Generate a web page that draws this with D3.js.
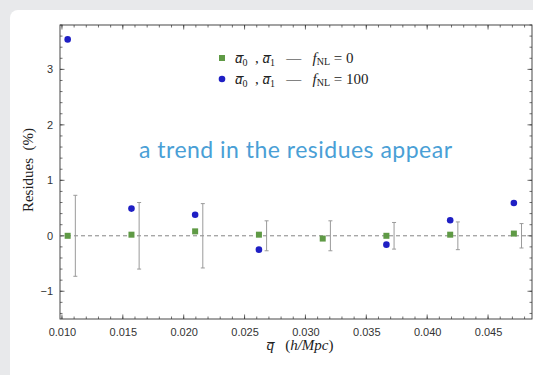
<!DOCTYPE html>
<html>
<head>
<meta charset="utf-8">
<script src="https://cdn.jsdelivr.net/npm/d3@7"></script>
<style>
  body { margin: 0; background: #e8e9eb; }
  svg { display: block; }
  text { white-space: pre; }
</style>
</head>
<body>
<script>
// residues of the fit
let q = [0.01047, 0.01571, 0.02094, 0.02618, 0.03142, 0.03665, 0.04189, 0.04712]
let resFnl0 = [0.0, 0.02, 0.08, 0.02, -0.05, 0.0, 0.02, 0.04]
let resFnl100 = [3.54, 0.49, 0.38, -0.25, null, -0.16, 0.28, 0.59]
let errQ = [0.01110, 0.01634, 0.02157, 0.02681, 0.03205, 0.03728, 0.04252, 0.04775]
let errSize = [0.73, 0.60, 0.58, 0.27, 0.27, 0.24, 0.25, 0.22]
let xTicks = [0.010, 0.015, 0.020, 0.025, 0.030, 0.035, 0.040, 0.045]
let yTicks = [-1, 0, 1, 2, 3]

let W = 533, H = 375
let pL = 60, pR = 532, pT = 25, pB = 319

let svg = d3.select('body').append('svg')
    .attr('width', W)
    .attr('height', H)

// white slide panel
svg.append('rect')
    .attr('x', 10).attr('y', 10)
    .attr('width', W).attr('height', H)
    .attr('rx', 8)
    .attr('fill', '#ffffff')

let x = d3.scaleLinear().domain([0.00984, 0.04861]).range([pL, pR])
let y = d3.scaleLinear().domain([-1.5, 3.8]).range([pB, pT])

let frameCol = '#333'
let labelFont = '"Liberation Sans", Arial, sans-serif'

// minor ticks
let xMinor = d3.range(0.010, 0.0487, 0.001)
let yMinor = d3.range(-1.4, 3.81, 0.2)

function tickLines(g, vals, horiz, len, side) {
    g.selectAll(null).data(vals).enter().append('line')
        .attr('x1', d => horiz ? x(d) : side)
        .attr('x2', d => horiz ? x(d) : side + len)
        .attr('y1', d => horiz ? side : y(d))
        .attr('y2', d => horiz ? side + len : y(d))
        .attr('stroke', frameCol)
        .attr('stroke-width', 0.7)
}

let ticks = svg.append('g')
tickLines(ticks, xMinor, true, -2.5, pB)
tickLines(ticks, xTicks, true, -4.5, pB)
tickLines(ticks, xMinor, true, 2.5, pT)
tickLines(ticks, xTicks, true, 4.5, pT)
tickLines(ticks, yMinor, false, 2.5, pL)
tickLines(ticks, yTicks, false, 4.5, pL)
tickLines(ticks, yMinor, false, -2.5, pR)
tickLines(ticks, yTicks, false, -4.5, pR)

// frame
svg.append('rect')
    .attr('x', pL).attr('y', pT)
    .attr('width', pR - pL).attr('height', pB - pT)
    .attr('fill', 'none')
    .attr('stroke', frameCol)
    .attr('stroke-width', 0.9)

// tick labels via d3 axes, lines hidden
svg.append('g')
    .attr('transform', `translate(0,${pB})`)
    .call(d3.axisBottom(x).tickValues(xTicks).tickFormat(d3.format('.3f')).tickSize(0).tickPadding(9))
svg.append('g')
    .attr('transform', `translate(${pL},0)`)
    .call(d3.axisLeft(y).tickValues(yTicks).tickFormat(d => d < 0 ? '\u2212' + Math.abs(d) : d).tickSize(0).tickPadding(7))
svg.selectAll('.domain').remove()
svg.selectAll('.tick text')
    .attr('font-family', labelFont)
    .attr('font-size', 11)
    .attr('fill', '#333')

// zero line
svg.append('line')
    .attr('x1', pL).attr('x2', pR)
    .attr('y1', y(0)).attr('y2', y(0))
    .attr('stroke', '#777')
    .attr('stroke-width', 0.9)
    .attr('stroke-dasharray', '4,3')

// error bars
let bars = svg.append('g').attr('stroke', '#9a9a9a').attr('stroke-width', 1)
q.forEach((d, i) => {
    let cx = x(errQ[i])
    bars.append('line')
        .attr('x1', cx).attr('x2', cx)
        .attr('y1', y(errSize[i])).attr('y2', y(-errSize[i]))
    ;[errSize[i], -errSize[i]].forEach(e => {
        bars.append('line')
            .attr('x1', cx - 2).attr('x2', cx + 2)
            .attr('y1', y(e)).attr('y2', y(e))
    })
})

// fNL = 100 points
svg.append('g').selectAll('circle')
    .data(q.map((d, i) => [d, resFnl100[i]]).filter(d => d[1] !== null))
    .enter().append('circle')
    .attr('cx', d => x(d[0]))
    .attr('cy', d => y(d[1]))
    .attr('r', 3.3)
    .attr('fill', '#1f1fc4')

// fNL = 0 points
svg.append('g').selectAll('rect')
    .data(q.map((d, i) => [d, resFnl0[i]]))
    .enter().append('rect')
    .attr('x', d => x(d[0]) - 3)
    .attr('y', d => y(d[1]) - 3)
    .attr('width', 6).attr('height', 6)
    .attr('fill', '#5f9a45')

// legend
let serif = '"Liberation Serif", "Times New Roman", serif'
let legend = [['0', '#5f9a45', 'rect'], ['100', '#1f1fc4', 'circle']]
legend.forEach((l, i) => {
    let ly = 58 + i * 21
    if (l[2] === 'rect') {
        svg.append('rect').attr('x', 219).attr('y', ly - 3).attr('width', 6).attr('height', 6).attr('fill', l[1])
    } else {
        svg.append('circle').attr('cx', 222).attr('cy', ly).attr('r', 3.3).attr('fill', l[1])
    }
    let t = svg.append('text')
        .attr('x', 235).attr('y', ly + 5)
        .attr('font-family', serif)
        .attr('font-size', 15)
        .attr('fill', '#222')
    t.append('tspan').attr('font-style', 'italic').text('a\u0305')
    t.append('tspan').attr('font-size', 10).attr('dy', 3).text('0')
    t.append('tspan').attr('dy', -3).text('  , ')
    t.append('tspan').attr('font-style', 'italic').text('a\u0305')
    t.append('tspan').attr('font-size', 10).attr('dy', 3).text('1')
    t.append('tspan').attr('dy', -3).text('   \u2014   ')
    t.append('tspan').attr('font-style', 'italic').text('f')
    t.append('tspan').attr('font-size', 10).attr('dy', 2).text('NL')
    t.append('tspan').attr('dy', -2).text(' = ' + l[0])
})

// annotation
svg.append('text')
    .attr('x', 139).attr('y', 158)
    .attr('font-family', 'Lato, "Open Sans", sans-serif')
    .attr('font-size', 23)
    .attr('textLength', 313)
    .attr('lengthAdjust', 'spacing')
    .attr('fill', '#4a9fd6')
    .text('a trend in the residues appear')

// axis labels
svg.append('text')
    .attr('transform', 'translate(33,170) rotate(-90)')
    .attr('text-anchor', 'middle')
    .attr('font-family', serif)
    .attr('font-size', 15)
    .attr('fill', '#222')
    .text('Residues  (%)')

let xl = svg.append('text')
    .attr('x', 300).attr('y', 350)
    .attr('text-anchor', 'middle')
    .attr('font-family', serif)
    .attr('font-size', 15)
    .attr('fill', '#222')
xl.append('tspan').attr('font-style', 'italic').text('q\u0305')
xl.append('tspan').text('   (')
xl.append('tspan').attr('font-style', 'italic').text('h/Mpc')
xl.append('tspan').text(')')
</script>
</body>
</html>
